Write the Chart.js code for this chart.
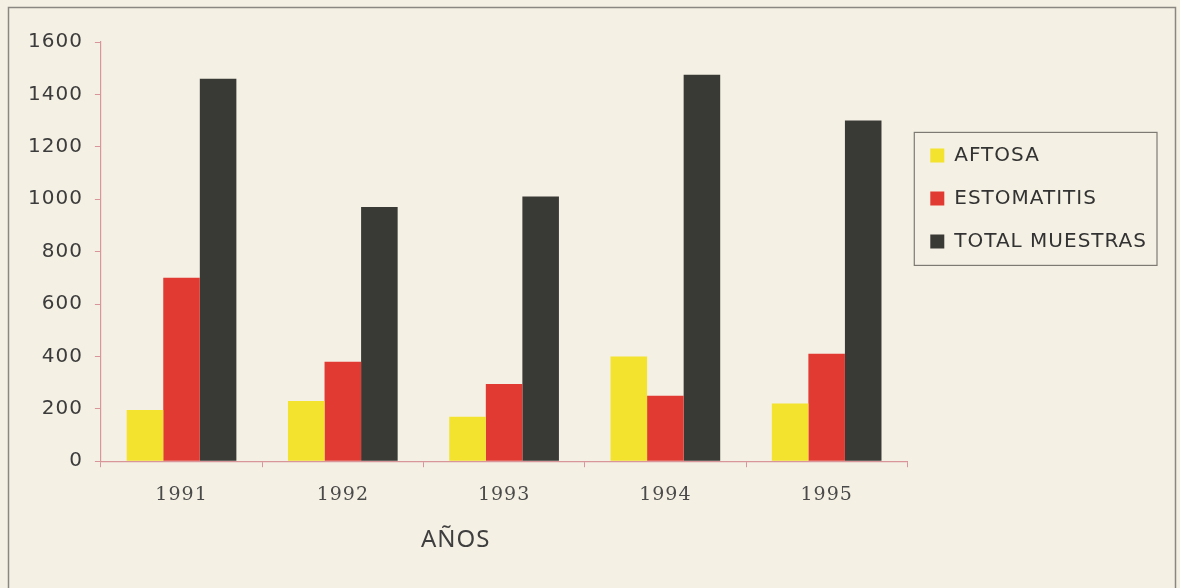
<!DOCTYPE html>
<html>
<head>
<meta charset="utf-8">
<script src="https://cdn.jsdelivr.net/npm/chart.js@4/dist/chart.umd.min.js"></script>
<style>
  html, body { margin: 0; background: #f4f0e4; }
  #wrap { width: 1180px; height: 588px; }
</style>
</head>
<body>
<div id="wrap"><canvas id="chart"></canvas></div>
<script>
/* datos */
const years        = ['1991', '1992', '1993', '1994', '1995'];
const aftosa       = [195, 230, 170, 400, 220];
const estomatitis  = [700, 380, 295, 250, 410];
const totalMuestras = [1460, 970, 1010, 1475, 1300];
const seriesNames  = ['AFTOSA', 'ESTOMATITIS', 'TOTAL MUESTRAS'];
const xTitle       = 'AÑOS';

const PINK = '#d8959a';

/* letra algo espaciada, como la del original */
const spacing = {
  id: 'spacing',
  beforeLayout(chart) { chart.ctx.letterSpacing = '1px'; },
  beforeDraw(chart)   { chart.ctx.letterSpacing = '1px'; }
};

/* marco de página, caja de leyenda y título del eje x */
const paper = {
  id: 'paper',
  beforeDraw(chart) {
    const { ctx, width, height } = chart;
    ctx.save();
    ctx.fillStyle = '#f4f0e4';
    ctx.fillRect(0, 0, width, height);
    ctx.strokeStyle = '#8a8782';
    ctx.lineWidth = 1.5;
    ctx.strokeRect(8.5, 7.5, 1167, height + 10);
    ctx.restore();
  },
  afterDraw(chart) {
    const { ctx } = chart;
    const boxes = chart.legend.legendHitBoxes;
    if (boxes && boxes.length) {
      const l = Math.min(...boxes.map(b => b.left)) - 16;
      const t = Math.min(...boxes.map(b => b.top)) - 13;
      const r = Math.max(...boxes.map(b => b.left + b.width)) + 10;
      const b = Math.max(...boxes.map(b => b.top + b.height)) + 14;
      ctx.save();
      ctx.strokeStyle = '#7d7a74';
      ctx.lineWidth = 1.2;
      ctx.strokeRect(l, t, r - l, b - t);
      ctx.restore();
    }
    const xs = chart.scales.x;
    ctx.save();
    ctx.fillStyle = '#3f3f3f';
    ctx.font = '24px "Noto Sans"';
    ctx.letterSpacing = '1px';
    ctx.textAlign = 'center';
    ctx.textBaseline = 'middle';
    ctx.fillText(xTitle, xs.left + xs.width * 0.44, xs.bottom + 18);
    ctx.restore();
  }
};

const cfg = {
  type: 'bar',
  data: {
    labels: years,
    datasets: [
      { label: seriesNames[0], data: aftosa,        backgroundColor: '#f3e22e' },
      { label: seriesNames[1], data: estomatitis,   backgroundColor: '#e13a33' },
      { label: seriesNames[2], data: totalMuestras, backgroundColor: '#393936' }
    ]
  },
  options: {
    responsive: true, maintainAspectRatio: false, animation: false,
    categoryPercentage: 0.68, barPercentage: 1.0,
    layout: { padding: { left: 16, top: 42, right: 23, bottom: 66 } },
    plugins: {
      tooltip: { enabled: false },
      legend: {
        position: 'right', align: 'start',
        title: { display: true, text: '', padding: { top: 66, bottom: 0 } },
        labels: {
          color: '#333', boxWidth: 14, boxHeight: 14, padding: 23,
          font: { family: 'DejaVu Sans', size: 20 }
        }
      }
    },
    scales: {
      x: {
        grid: { display: true, drawOnChartArea: false, color: PINK, tickLength: 6, offset: true },
        border: { color: PINK, width: 1.2 },
        ticks: { color: '#4a4a4a', padding: 16, font: { family: 'DejaVu Serif', size: 19 } }
      },
      y: {
        min: 0, max: 1600,
        grid: { display: true, drawOnChartArea: false, color: PINK, tickLength: 6 },
        border: { color: PINK, width: 1.2 },
        ticks: {
          stepSize: 200, color: '#3c3c3c', padding: 12,
          font: { family: 'DejaVu Sans', size: 20 },
          callback: v => String(v)
        }
      }
    }
  },
  plugins: [spacing, paper]
};

new Chart(document.getElementById('chart').getContext('2d'), cfg);
</script>
</body>
</html>
